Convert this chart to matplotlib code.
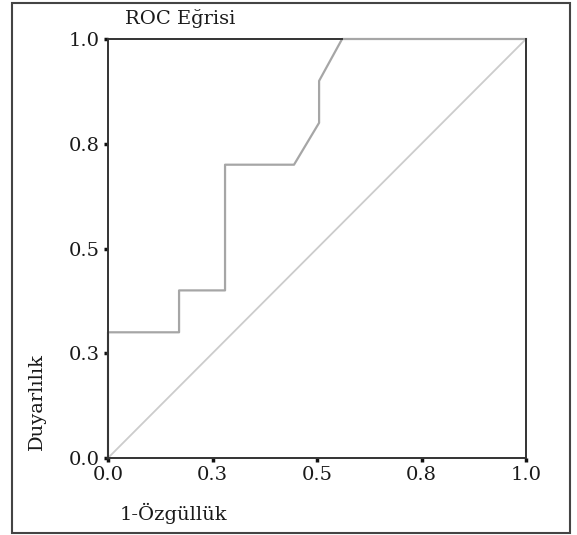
import matplotlib.pyplot as plt
from matplotlib.patches import Rectangle

# ROC curve points
fpr = [0.0, 0.0, 0.17, 0.17, 0.28, 0.28, 0.445, 0.505, 0.505, 0.56, 1.0]
tpr = [0.0, 0.30, 0.30, 0.40, 0.40, 0.70, 0.70, 0.80, 0.90, 1.0, 1.0]
ref_x = [0.0, 1.0]
ref_y = [0.0, 1.0]
tick_vals = [0.0, 0.25, 0.5, 0.75, 1.0]
tick_labels = ['0.0', '0.3', '0.5', '0.8', '1.0']

W, H = 577, 535
fig = plt.figure(figsize=(W / 100, H / 100), dpi=100)
plt.rcParams['font.family'] = ['DejaVu Serif']

# outer frame
fig.patches.append(Rectangle((12 / W, 1 - 533 / H), (570 - 12) / W, (533 - 3) / H,
                             transform=fig.transFigure, fill=False,
                             edgecolor='#444444', linewidth=1.5))

ax = fig.add_axes([108 / W, 1 - 458 / H, 418 / W, 419 / H])
ax.plot(ref_x, ref_y, color='#cccccc', linewidth=1.3, zorder=1)
ax.plot(fpr, tpr, color='#a6a6a6', linewidth=1.6, zorder=2, clip_on=False)

ax.set_xlim(0, 1)
ax.set_ylim(0, 1)
for s in ax.spines.values():
    s.set_color('#333333')
    s.set_linewidth(1.4)
# top frame only dark where the curve has not reached 1.0
first_top = fpr[tpr.index(1.0)]
ax.spines['top'].set_bounds(0, first_top)
ax.set_xticks(tick_vals)
ax.set_xticklabels(tick_labels)
ax.set_yticks(tick_vals)
ax.set_yticklabels(tick_labels)
ax.tick_params(direction='out', length=3, width=2.5, color='#111111',
               labelsize=14, labelcolor='#1a1a1a', pad=3)

fig.text(125 / W, 1 - 19 / H, 'ROC Eğrisi', fontsize=14, color='#1a1a1a',
         ha='left', va='center')
fig.text(120 / W, 1 - 513 / H, '1-Özgüllük', fontsize=14, color='#1a1a1a',
         ha='left', va='center')
fig.text(37 / W, 1 - 402 / H, 'Duyarlılık', fontsize=14, color='#1a1a1a',
         rotation=90, ha='center', va='center')

fig.savefig('out.png', dpi=100, facecolor='white')
